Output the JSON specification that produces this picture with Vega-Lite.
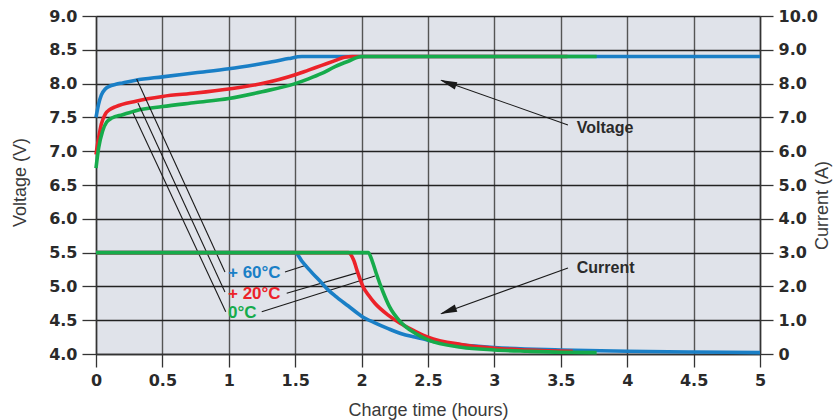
{
  "$schema": "https://vega.github.io/schema/vega-lite/v6.json",
  "width": 664,
  "height": 338,
  "autosize": {"type": "none"},
  "padding": {"left": 96, "top": 16, "right": 78, "bottom": 66},
  "background": "white",
  "config": {
    "view": {"fill": "#e0e3ea", "stroke": null},
    "axis": {
      "labelFont": "DejaVu Sans",
      "labelFontWeight": "bold",
      "labelFontSize": 16,
      "labelColor": "#2a2a2a",
      "titleFont": "Liberation Sans",
      "titleFontWeight": "normal",
      "titleFontSize": 18,
      "titleColor": "#3a3a3a",
      "domainColor": "#333333",
      "domainWidth": 1.5,
      "tickColor": "#333333",
      "tickWidth": 1.3,
      "labelPadding": 5,
      "labelFlush": false,
      "labelOverlap": false
    }
  },
  "datasets": {
    "volt": [
      {"series": "60", "t": 0, "v": 7.5}, {"series": "60", "t": 0.02, "v": 7.7}, {"series": "60", "t": 0.04, "v": 7.83},
      {"series": "60", "t": 0.07, "v": 7.92}, {"series": "60", "t": 0.1, "v": 7.96}, {"series": "60", "t": 0.15, "v": 7.99},
      {"series": "60", "t": 0.2, "v": 8.01}, {"series": "60", "t": 0.3, "v": 8.05}, {"series": "60", "t": 0.5, "v": 8.1},
      {"series": "60", "t": 0.75, "v": 8.16}, {"series": "60", "t": 1.0, "v": 8.22}, {"series": "60", "t": 1.2, "v": 8.28},
      {"series": "60", "t": 1.35, "v": 8.33}, {"series": "60", "t": 1.45, "v": 8.37}, {"series": "60", "t": 1.55, "v": 8.4},
      {"series": "60", "t": 2.0, "v": 8.4}, {"series": "60", "t": 5.0, "v": 8.4},
      {"series": "20", "t": 0, "v": 6.95}, {"series": "20", "t": 0.02, "v": 7.2}, {"series": "20", "t": 0.04, "v": 7.4},
      {"series": "20", "t": 0.07, "v": 7.55}, {"series": "20", "t": 0.1, "v": 7.61}, {"series": "20", "t": 0.15, "v": 7.66},
      {"series": "20", "t": 0.3, "v": 7.74}, {"series": "20", "t": 0.5, "v": 7.81}, {"series": "20", "t": 0.75, "v": 7.86},
      {"series": "20", "t": 1.0, "v": 7.92}, {"series": "20", "t": 1.25, "v": 8.0}, {"series": "20", "t": 1.5, "v": 8.13},
      {"series": "20", "t": 1.6, "v": 8.2}, {"series": "20", "t": 1.7, "v": 8.27}, {"series": "20", "t": 1.8, "v": 8.34},
      {"series": "20", "t": 1.87, "v": 8.39}, {"series": "20", "t": 1.93, "v": 8.4}, {"series": "20", "t": 3.55, "v": 8.4},
      {"series": "0", "t": 0, "v": 6.75}, {"series": "0", "t": 0.02, "v": 7.05}, {"series": "0", "t": 0.05, "v": 7.3},
      {"series": "0", "t": 0.08, "v": 7.43}, {"series": "0", "t": 0.12, "v": 7.49}, {"series": "0", "t": 0.2, "v": 7.54},
      {"series": "0", "t": 0.3, "v": 7.6}, {"series": "0", "t": 0.5, "v": 7.66}, {"series": "0", "t": 0.75, "v": 7.72},
      {"series": "0", "t": 1.0, "v": 7.78}, {"series": "0", "t": 1.25, "v": 7.88}, {"series": "0", "t": 1.5, "v": 8.0},
      {"series": "0", "t": 1.6, "v": 8.07}, {"series": "0", "t": 1.7, "v": 8.15}, {"series": "0", "t": 1.8, "v": 8.25},
      {"series": "0", "t": 1.9, "v": 8.33}, {"series": "0", "t": 2.0, "v": 8.4}, {"series": "0", "t": 3.77, "v": 8.4}
    ],
    "curr": [
      {"series": "60", "t": 0, "a": 3.0}, {"series": "60", "t": 1.5, "a": 3.0}, {"series": "60", "t": 1.55, "a": 2.75},
      {"series": "60", "t": 1.6, "a": 2.52}, {"series": "60", "t": 1.7, "a": 2.1}, {"series": "60", "t": 1.75, "a": 1.89},
      {"series": "60", "t": 1.8, "a": 1.72}, {"series": "60", "t": 1.9, "a": 1.42}, {"series": "60", "t": 2.0, "a": 1.12},
      {"series": "60", "t": 2.1, "a": 0.92}, {"series": "60", "t": 2.2, "a": 0.75}, {"series": "60", "t": 2.3, "a": 0.6},
      {"series": "60", "t": 2.4, "a": 0.5}, {"series": "60", "t": 2.5, "a": 0.41}, {"series": "60", "t": 2.75, "a": 0.27},
      {"series": "60", "t": 3.0, "a": 0.19}, {"series": "60", "t": 3.5, "a": 0.12}, {"series": "60", "t": 4.0, "a": 0.08},
      {"series": "60", "t": 4.5, "a": 0.06}, {"series": "60", "t": 5.0, "a": 0.04},
      {"series": "20", "t": 0, "a": 3.0}, {"series": "20", "t": 1.9, "a": 3.0}, {"series": "20", "t": 1.94, "a": 2.78},
      {"series": "20", "t": 1.97, "a": 2.42}, {"series": "20", "t": 2.01, "a": 2.0}, {"series": "20", "t": 2.05, "a": 1.75},
      {"series": "20", "t": 2.1, "a": 1.5}, {"series": "20", "t": 2.2, "a": 1.15}, {"series": "20", "t": 2.29, "a": 0.91},
      {"series": "20", "t": 2.4, "a": 0.68}, {"series": "20", "t": 2.5, "a": 0.5}, {"series": "20", "t": 2.75, "a": 0.28},
      {"series": "20", "t": 3.0, "a": 0.17}, {"series": "20", "t": 3.25, "a": 0.12}, {"series": "20", "t": 3.59, "a": 0.08},
      {"series": "0", "t": 0, "a": 3.0}, {"series": "0", "t": 2.05, "a": 3.0}, {"series": "0", "t": 2.08, "a": 2.75},
      {"series": "0", "t": 2.11, "a": 2.39}, {"series": "0", "t": 2.16, "a": 1.85}, {"series": "0", "t": 2.21, "a": 1.4},
      {"series": "0", "t": 2.29, "a": 0.96}, {"series": "0", "t": 2.4, "a": 0.62}, {"series": "0", "t": 2.5, "a": 0.42},
      {"series": "0", "t": 2.75, "a": 0.2}, {"series": "0", "t": 3.0, "a": 0.12}, {"series": "0", "t": 3.25, "a": 0.08},
      {"series": "0", "t": 3.5, "a": 0.05}, {"series": "0", "t": 3.77, "a": 0.04}
    ],
    "leaders": [
      {"t": 0.306, "v": 8.068, "t2": 0.971, "v2": 5.213},
      {"t": 0.316, "v": 7.713, "t2": 0.971, "v2": 4.917},
      {"t": 0.279, "v": 7.565, "t2": 0.977, "v2": 4.626},
      {"t": 1.423, "v": 5.213, "t2": 1.587, "v2": 5.317},
      {"t": 1.436, "v": 4.898, "t2": 1.965, "v2": 5.2},
      {"t": 1.248, "v": 4.626, "t2": 2.101, "v2": 5.154},
      {"t": 3.554, "v": 7.388, "t2": 2.6, "v2": 8.05},
      {"t": 3.554, "v": 5.272, "t2": 2.6, "v2": 4.597}
    ],
    "templabels": [
      {"series": "60", "label": "+ 60°C", "t": 0.994, "v": 5.2},
      {"series": "20", "label": "+ 20°C", "t": 0.994, "v": 4.89},
      {"series": "0", "label": "0°C", "t": 0.994, "v": 4.607}
    ],
    "names": [
      {"label": "Voltage", "t": 3.62, "v": 7.339},
      {"label": "Current", "t": 3.62, "v": 5.268}
    ],
    "heads": [
      {"which": "voltage", "t": 2.651, "v": 8.01},
      {"which": "current", "t": 2.651, "v": 4.635}
    ]
  },
  "encoding": {
    "x": {
      "field": "t",
      "type": "quantitative",
      "scale": {"domain": [0, 5], "nice": false},
      "axis": {
        "values": [0, 0.5, 1, 1.5, 2, 2.5, 3, 3.5, 4, 4.5, 5],
        "format": "~g",
        "title": "Charge time (hours)",
        "titleX": 332,
        "titleY": 56,
        "titleBaseline": "middle",
        "tickSize": 13,
        "labelPadding": 5,
        "grid": true,
        "gridColor": "#555555",
        "gridWidth": 1.4
      }
    }
  },
  "layer": [
    {
      "encoding": {
        "y": {
          "field": "v",
          "type": "quantitative",
          "scale": {"domain": [4, 9], "nice": false, "zero": false},
          "axis": {
            "orient": "left",
            "values": [4, 4.5, 5, 5.5, 6, 6.5, 7, 7.5, 8, 8.5, 9],
            "format": ".1f",
            "title": "Voltage (V)",
            "titleAngle": 270,
            "titleX": -76,
            "titleY": 166,
            "titleAlign": "center",
            "titleBaseline": "middle",
            "tickSize": 14,
            "grid": true,
            "gridColor": "#222222",
            "gridWidth": 1.3
          }
        }
      },
      "layer": [
        {
          "data": {"name": "volt"},
          "mark": {"type": "line", "strokeWidth": 3.6, "interpolate": "monotone", "strokeCap": "butt"},
          "encoding": {
            "color": {"field": "series", "type": "nominal", "sort": null, "scale": {"domain": ["60", "20", "0"], "range": ["#1a7fc6", "#ec2229", "#16ab4b"]}, "legend": null}
          }
        },
        {
          "data": {"name": "leaders"},
          "mark": {"type": "rule", "color": "#1a1a1a", "strokeWidth": 1.1},
          "encoding": {
            "x2": {"field": "t2"},
            "y2": {"field": "v2"}
          }
        },
        {
          "data": {"name": "heads"},
          "transform": [{"filter": "datum.which == 'voltage'"}],
          "mark": {"type": "point", "shape": "M0,-1L0.45,1L-0.45,1Z", "filled": true, "color": "#1a1a1a", "opacity": 1, "size": 289, "angle": 289.7},
          "encoding": {}
        },
        {
          "data": {"name": "heads"},
          "transform": [{"filter": "datum.which == 'current'"}],
          "mark": {"type": "point", "shape": "M0,-1L0.45,1L-0.45,1Z", "filled": true, "color": "#1a1a1a", "opacity": 1, "size": 289, "angle": 250.2},
          "encoding": {}
        },
        {
          "data": {"name": "templabels"},
          "mark": {"type": "text", "align": "left", "baseline": "middle", "font": "Liberation Sans", "fontWeight": "bold", "fontSize": 17},
          "encoding": {
            "text": {"field": "label"},
            "color": {"field": "series", "type": "nominal", "scale": {"domain": ["60", "20", "0"], "range": ["#1a7fc6", "#ec2229", "#16ab4b"]}, "legend": null}
          }
        },
        {
          "data": {"name": "names"},
          "mark": {"type": "text", "align": "left", "baseline": "middle", "font": "Liberation Sans", "fontWeight": "bold", "fontSize": 16, "color": "#2a2a2a"},
          "encoding": {
            "text": {"field": "label"}
          }
        }
      ]
    },
    {
      "data": {"name": "curr"},
      "mark": {"type": "line", "strokeWidth": 3.6, "interpolate": "monotone", "strokeCap": "butt"},
      "encoding": {
        "y": {
          "field": "a",
          "type": "quantitative",
          "scale": {"domain": [0, 10], "nice": false},
          "axis": {
            "orient": "right",
            "values": [0, 1, 2, 3, 4, 5, 6, 7, 8, 9, 10],
            "labelExpr": "datum.value == 0 ? '0' : format(datum.value, '.1f')",
            "title": "Current (A)",
            "titleAngle": 270,
            "titleX": 62,
            "titleY": 189,
            "titleAlign": "center",
            "titleBaseline": "middle",
            "tickSize": 13,
            "grid": false
          }
        },
        "color": {"field": "series", "type": "nominal", "sort": null, "scale": {"domain": ["60", "20", "0"], "range": ["#1a7fc6", "#ec2229", "#16ab4b"]}, "legend": null}
      }
    }
  ],
  "resolve": {"scale": {"y": "independent"}}
}
